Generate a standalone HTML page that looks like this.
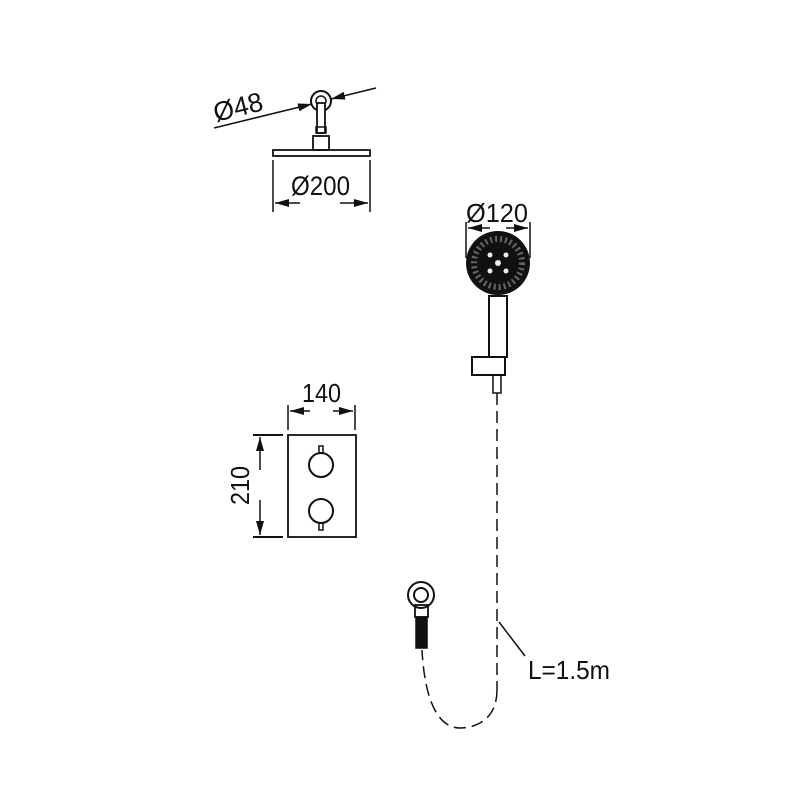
<!DOCTYPE html>
<html><head><style>body{margin:0;background:#fff}svg{display:block}text{font-family:"Liberation Sans",sans-serif;fill:#111}</style></head><body>
<svg width="800" height="800" viewBox="0 0 800 800" xmlns="http://www.w3.org/2000/svg">
<defs><marker id="a" markerWidth="14" markerHeight="8" refX="14" refY="4" orient="auto" markerUnits="userSpaceOnUse"><path d="M0,0 L14,4 L0,8 Z" fill="#111"/></marker></defs>
<g stroke="#111" stroke-width="1.5" fill="none">
<line x1="214" y1="128" x2="312" y2="104" marker-end="url(#a)"/>
<line x1="376" y1="88" x2="331" y2="99" marker-end="url(#a)"/>
<circle cx="321" cy="101" r="10" stroke-width="2"/>
<circle cx="321" cy="101" r="5" stroke-width="1.5"/>
<rect x="317" y="103" width="8" height="30" fill="#fff" stroke-width="1.8"/>
<rect x="316" y="127" width="10" height="6" stroke-width="1.5"/>
<rect x="313" y="136" width="16" height="14" stroke-width="1.8"/>
<rect x="273" y="150" width="97" height="6" stroke-width="1.8"/>
<line x1="273" y1="160" x2="273" y2="212"/>
<line x1="370" y1="160" x2="370" y2="212"/>
<line x1="300" y1="203" x2="275" y2="203" marker-end="url(#a)"/>
<line x1="340" y1="203" x2="368" y2="203" marker-end="url(#a)"/>
<line x1="466" y1="222" x2="466" y2="258"/>
<line x1="530" y1="222" x2="530" y2="258"/>
<line x1="490" y1="228" x2="468" y2="228" marker-end="url(#a)"/>
<line x1="506" y1="228" x2="528" y2="228" marker-end="url(#a)"/>
<rect x="489" y="296" width="18" height="61" stroke-width="2"/>
<rect x="472" y="357" width="33" height="18" stroke-width="2"/>
<rect x="493" y="375" width="8" height="18" stroke-width="1.5"/>
<line x1="497" y1="393" x2="497" y2="690" stroke-dasharray="12 6"/>
<path d="M497,690 C497,720 475,728 460,728 C440,728 425,705 422,650" stroke-dasharray="12 6"/>
<line x1="499" y1="622" x2="525" y2="656"/>
<circle cx="421" cy="595" r="13" stroke-width="2"/>
<circle cx="421" cy="595" r="7" stroke-width="2"/>
<rect x="415" y="605" width="13" height="12" stroke-width="1.8"/>
<rect x="416" y="617" width="11" height="31" fill="#111"/>
<rect x="288" y="435" width="68" height="102" stroke-width="1.8"/>
<circle cx="321" cy="465" r="12" stroke-width="2"/>
<circle cx="321" cy="511" r="12" stroke-width="2"/>
<rect x="319" y="446" width="4" height="7"/>
<rect x="319" y="523" width="4" height="7"/>
<line x1="288" y1="405" x2="288" y2="430"/>
<line x1="355" y1="405" x2="355" y2="430"/>
<line x1="310" y1="411" x2="290" y2="411" marker-end="url(#a)"/>
<line x1="333" y1="411" x2="353" y2="411" marker-end="url(#a)"/>
<line x1="253" y1="435" x2="283" y2="435" stroke-width="2"/>
<line x1="253" y1="537" x2="283" y2="537" stroke-width="2"/>
<line x1="260" y1="470" x2="260" y2="437" marker-end="url(#a)"/>
<line x1="260" y1="500" x2="260" y2="535" marker-end="url(#a)"/>
</g>
<circle cx="498" cy="263" r="32" fill="#111"/>
<circle cx="498" cy="263" r="24" fill="none" stroke="#666" stroke-width="6" stroke-dasharray="2 3"/>
<g fill="#eee">
<circle cx="498" cy="263" r="3"/>
<circle cx="490" cy="255" r="2.5"/><circle cx="506" cy="255" r="2.5"/>
<circle cx="490" cy="271" r="2.5"/><circle cx="506" cy="271" r="2.5"/>
</g>
<text x="291" y="195" font-size="27" textLength="59" lengthAdjust="spacingAndGlyphs">Ø200</text>
<text x="0" y="0" font-size="27" textLength="50" lengthAdjust="spacingAndGlyphs" transform="translate(216,122) rotate(-14)">Ø48</text>
<text x="466" y="222" font-size="26" textLength="62" lengthAdjust="spacingAndGlyphs">Ø120</text>
<text x="302" y="402" font-size="26" textLength="39" lengthAdjust="spacingAndGlyphs">140</text>
<text x="0" y="0" font-size="26" textLength="39" lengthAdjust="spacingAndGlyphs" transform="translate(249,505) rotate(-90)">210</text>
<text x="528" y="679" font-size="26" textLength="82" lengthAdjust="spacingAndGlyphs">L=1.5m</text>
</svg>
</body></html>
